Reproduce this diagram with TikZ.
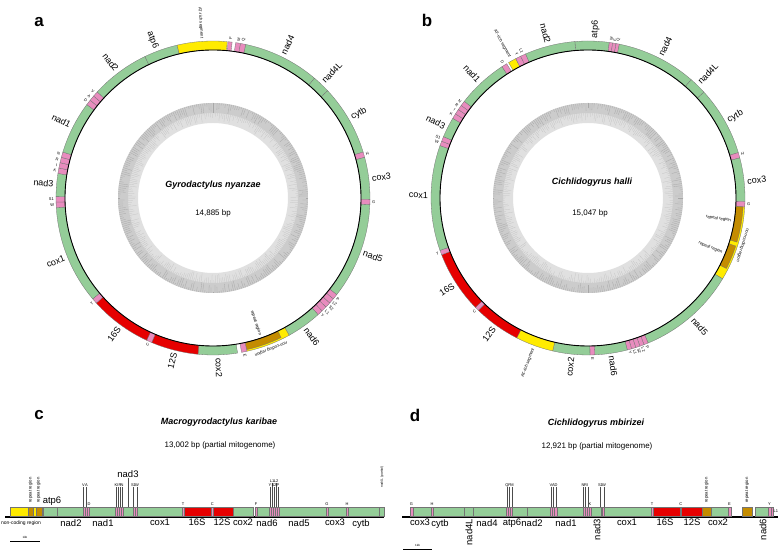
\documentclass[tikz,border=0pt]{standalone}
\usepackage{fontspec}
\setmainfont{Liberation Sans}
\definecolor{genegreen}{RGB}{148,205,152}
\definecolor{trnapink}{RGB}{232,140,190}
\definecolor{rrnared}{RGB}{230,0,0}
\definecolor{atyellow}{RGB}{255,235,0}
\definecolor{repbrown}{RGB}{196,140,0}
\def\ringseg[#1](#2:#3:#4:#5){\filldraw[#1] ({90-(#2)}:#4) arc ({90-(#2)}:{90-(#3)}:#4) -- ({90-(#3)}:#5) arc ({90-(#3)}:{90-(#2)}:#5) -- cycle;}
\def\radlab[#1](#2:#3:#4)#5{\ifdim #2pt<180pt\relax \node[#1, anchor=west, rotate={90-(#2)}] (#4) at ({90-(#2)}:#3) {#5};\else \node[#1, anchor=east, rotate={270-(#2)}] (#4) at ({90-(#2)}:#3) {#5};\fi}
\def\barseg[#1](#2:#3){\filldraw[#1] ({#2},35) rectangle ({#3},44);}
\def\gcring{%
	\fill[gray!24, even odd rule] (0,0) circle (95) circle (75);
	\fill[gray!40, even odd rule] (0,0) circle (95) circle (85);
	\foreach \k in {0,1.25,...,358.75}{\pgfmathsetmacro\rr{85+9*rnd}\draw[gray!68, line width=0.3pt] (\k:\rr) -- (\k:95);}
	\foreach \k in {0.6,1.85,...,359}{\pgfmathsetmacro\rr{76+8*rnd}\draw[gray!48, line width=0.25pt] (\k:\rr) -- (\k:85);}
}

\begin{document}
\begin{tikzpicture}[x=1bp, y=1bp,
	cds/.style={fill=genegreen, draw=black!55, line width=0.3pt},
	trna/.style={fill=trnapink, draw=black!55, line width=0.3pt},
	rrna/.style={fill=rrnared, draw=black!55, line width=0.3pt},
	atrich/.style={fill=atyellow, draw=black!55, line width=0.3pt},
	reprgn/.style={fill=repbrown, draw=black!55, line width=0.3pt},
	genelab/.style={font=\fontsize{9}{9}\selectfont, inner sep=0pt},
	barlab/.style={font=\fontsize{9.5}{9.5}\selectfont, inner sep=0pt},
	trnalab/.style={font=\fontsize{4}{4}\selectfont, inner sep=0pt},
	tinylab/.style={font=\fontsize{4.3}{4.3}\selectfont, inner sep=0pt},
	leader/.style={line width=0.35pt, black!70},
	titlelab/.style={font=\fontsize{9}{9}\bfseries\itshape\selectfont, inner sep=0pt},
	sizelab/.style={font=\fontsize{8}{8}\selectfont, inner sep=0pt},
	panellab/.style={font=\fontsize{17}{17}\bfseries\selectfont, inner sep=0pt}]
		%%%%% START %%%%%
		\useasboundingbox[fill=white] (0,0) rectangle (778,551);
		\pgfmathsetseed{7}
		
		\node[panellab] (pa) at (39,529) {a};
		\node[panellab] (pb) at (427,531) {b};
		\node[panellab] (pc) at (39,136) {c};
		\node[panellab] (pd) at (415,136) {d};
		
		% Gyrodactylus nyanzae
		\begin{scope}[shift={(213,353)}]
		\gcring
		\node[titlelab] (atitle) at (0,13) {Gyrodactylus nyanzae};
		\node[sizelab] (asize) at (0,-15) {14,885 bp};
		
		\ringseg[cds](12:40.3:148:157)
		\ringseg[cds](40.3:46.9:148:157)
		\ringseg[cds](46.9:73:148:157)
		\ringseg[trna](73:75:148:157)
		\ringseg[cds](75:90.5:148:157)
		\ringseg[trna](90.5:92.5:148:157)
		\ringseg[cds](92.5:128:148:157)
		\foreach \t in {128,130,...,136}{\ringseg[trna](\t:\t+2:148:157)}
		\ringseg[cds](138:151:148:157)
		\ringseg[atrich](151:167.5:148:157)
		\ringseg[reprgn](154:167.5:148:155.3)
		\ringseg[trna](167.5:169.5:148:157)
		\ringseg[cds](171:185.5:148:157)
		\ringseg[rrna](185.5:203:148:157)
		\ringseg[trna](203:205:148:157)
		\ringseg[rrna](205:228:148:157)
		\ringseg[trna](228:230:148:157)
		\ringseg[cds](230:266.5:148:157)
		\ringseg[trna](266.5:268.5:148:157)
		\ringseg[trna](268.5:270.5:148:157)
		\ringseg[cds](270.5:279:148:157)
		\foreach \t in {279,281,283,285}{\ringseg[trna](\t:\t+2:148:157)}
		\ringseg[cds](287:306.5:148:157)
		\foreach \t in {306.5,308.5,310.5}{\ringseg[trna](\t:\t+2:148:157)}
		\ringseg[cds](312.5:334.3:148:157)
		\ringseg[cds](334.3:346.8:148:157)
		\ringseg[atrich](346.8:365.2:148:157)
		\ringseg[trna](365.5:367:148:157)
		\ringseg[trna](368.3:370.1:148:157)
		\ringseg[trna](370.1:372:148:157)
		\draw[line width=0.9pt] (0,0) circle (148);
		
		\foreach \t/\g in {26/nad4, 43.5/nad4L, 60/cytb, 83/cox3, 110/nad5, 144.5/nad6, 178/cox2, 194/12S, 216/16S, 248/cox1, 275/nad3, 297/nad1, 323/nad2, 339/atp6}{\radlab[genelab](\t:160:a\g){\g}}
		\foreach \t/\g [count=\i] in {6.3/F, 9.2/M, 11/Q, 74/H, 91.5/G, 129/P, 131/L2, 133/S2, 135/L1, 137/Y, 168.5/E, 204/C, 229/T, 267.5/W, 269.5/S1, 280/K, 282/I, 284/R, 286/N, 307.5/D, 309.5/A, 311.5/V}{\radlab[trnalab](\t:159:at\i){\g}}
		\radlab[tinylab](356:160:aatr){AT-rich segment}
		\node[tinylab, anchor=east, rotate=-71] (arep) at (-71:145) {repeat region};
		\node[tinylab, anchor=south, rotate=-159] (anc) at (-69:159.5) {non-coding region};
		\end{scope}
		
		% Cichlidogyrus halli
		\begin{scope}[shift={(588,353)}]
		\gcring
		\node[titlelab] (btitle) at (4,16) {Cichlidogyrus halli};
		\node[sizelab] (bsize) at (2,-15) {15,047 bp};
		
		\ringseg[cds](355.2:367.8:148:157)
		\foreach \t in {7.8,9.05,10.3}{\ringseg[trna](\t:\t+1.25:148:157)}
		\ringseg[cds](11.5:41.1:148:157)
		\ringseg[cds](41.1:47.6:148:157)
		\ringseg[cds](47.6:73.2:148:157)
		\ringseg[trna](73.2:75.2:148:157)
		\ringseg[cds](75.2:91.3:148:157)
		\ringseg[trna](91.3:93.3:148:157)
		\ringseg[atrich](93.3:121:148:157)
		\ringseg[reprgn](93.3:106.5:148:155.3)
		\ringseg[reprgn](108:117:148:155.3)
		\ringseg[cds](121:157.5:148:157)
		\foreach \t in {157.5,159.1,...,164}{\ringseg[trna](\t:\t+1.6:148:157)}
		\ringseg[cds](165.5:177.5:148:157)
		\ringseg[trna](177.5:179.3:148:157)
		\ringseg[cds](179.3:193:148:157)
		\ringseg[atrich](193:207:148:157)
		\ringseg[rrna](207:224.3:148:157)
		\ringseg[trna](224.3:225.8:148:157)
		\ringseg[rrna](225.8:248.8:148:157)
		\ringseg[trna](248.8:250.5:148:157)
		\ringseg[cds](250.5:289.5:148:157)
		\ringseg[trna](289.5:291.2:148:157)
		\ringseg[trna](291.2:293:148:157)
		\ringseg[cds](293:300.5:148:157)
		\foreach \t in {300.5,302.4,304.3,306.1}{\ringseg[trna](\t:\t+1.9:148:157)}
		\ringseg[cds](308:326.8:148:157)
		\ringseg[trna](326.8:328.8:148:157)
		\ringseg[atrich](329.6:332.6:148:157)
		\ringseg[trna](332.6:334.6:148:157)
		\ringseg[trna](334.6:336.6:148:157)
		\ringseg[cds](336.6:355.2:148:157)
		\draw[line width=0.9pt] (0,0) circle (148);
		
		\foreach \t/\g in {2.5/atp6, 27/nad4, 44/nad4L, 61/cytb, 84/cox3, 139/nad5, 171.5/nad6, 186/cox2, 216/12S, 237/16S, 271/cox1, 296.5/nad3, 317/nad1, 345.5/nad2}{\radlab[genelab](\t:160:b\g){\g}}
		\foreach \t/\g [count=\i] in {8.4/M, 9.7/F, 10.9/Q, 74.2/H, 92.3/G, 158.3/P, 159.9/L2, 161.5/S2, 163.1/L1, 164.7/Y, 178.4/E, 225/C, 249.6/T, 290.3/W, 292.1/S1, 301.5/K, 303.4/I, 305.3/R, 307.1/N, 327.8/D, 333.6/Y, 335.6/L1}{\radlab[trnalab](\t:159:bt\i){\g}}
		\radlab[tinylab](331:161:batra){AT-rich segment}
		\radlab[tinylab](200:160:batrb){AT-rich segment}
		\node[tinylab, anchor=east, rotate=-9] (breps) at (-9:145) {repeat region};
		\node[tinylab, anchor=east, rotate=-22] (brept) at (-22:145) {repeat region};
		\node[tinylab, anchor=south, rotate=-107] (bnc) at (-17:159.5) {non-coding region};
		\end{scope}
		
		% Macrogyrodactylus karibae
		\node[titlelab] (ctitle) at (219,129) {Macrogyrodactylus karibae};
		\node[sizelab] (csize) at (220,106) {13,002 bp (partial mitogenome)};
		\coordinate (cbar) at (0,44);
		\draw[line width=1.4pt] (5,34) -- (384,34);
		\barseg[atrich](10:43)
		\barseg[reprgn](28:33)
		\barseg[reprgn](36:42)
		\barseg[cds](43:57)
		\barseg[cds](57:83)
		\foreach \x in {83,85,87}{\barseg[trna](\x:\x+2)}
		\barseg[cds](89:115)
		\foreach \x in {115,117,119,121}{\barseg[trna](\x:\x+2)}
		\barseg[cds](123:133)
		\foreach \x in {133,135}{\barseg[trna](\x:\x+2)}
		\barseg[cds](137:182)
		\barseg[trna](182:184)
		\barseg[rrna](184:211.5)
		\barseg[trna](211.5:213)
		\barseg[rrna](213:233)
		\barseg[cds](233:253)
		\barseg[trna](255:257)
		\barseg[cds](257:269)
		\foreach \x in {269,271,...,277}{\barseg[trna](\x:\x+2)}
		\barseg[cds](279:326)
		\barseg[trna](326:328)
		\barseg[cds](328:346)
		\barseg[trna](346:348)
		\barseg[cds](348:379)
		\barseg[cds](379:384)
		
		\foreach \x/\g in {71/nad2, 103/nad1, 160/cox1, 197/16S, 222/12S, 243/cox2, 267/nad6, 299/nad5, 335/cox3, 361/cytb}{\node[barlab, anchor=north] (c\g) at (\x,32) {\g};}
		\node[barlab, anchor=south] (catp6) at (52,45) {atp6};
		\node[barlab, anchor=south] (cnad3) at (128,73) {nad3};
		\draw[leader] (cnad3.south) -- (cnad3.south |- cbar);
		\node[font=\fontsize{5}{5}\selectfont, inner sep=0pt] (cnc) at (21,28) {non-coding region};
		\node[tinylab, anchor=west, rotate=90] (crepa) at (30.5,48) {repeat region};
		\node[tinylab, anchor=west, rotate=90] (crepb) at (38.5,48) {repeat region};
		\node[font=\fontsize{3.3}{3.3}\selectfont, inner sep=0pt, anchor=west, rotate=90] (cpart) at (382,63) {nad4L (partial)};
		\foreach \x/\g in {89/D, 183/T, 212.2/C, 256/F, 327/G, 347/H}{\node[trnalab, anchor=south] (ct\g) at (\x,45.5) {\g};}
		\foreach \x/\g/\h [count=\i] in {83.5/V/0, 86.5/A/0, 116/K/0, 118/I/0, 120/R/0, 122/N/0, 133.5/S1/0, 137/W/0, 270/Y/0, 272/L1/4, 274/S2/0, 276/L2/4, 278/P/0}{\node[trnalab, anchor=south] (cl\i) at (\x,64+\h) {\g}; \draw[leader] (cl\i.south) -- (cl\i.south |- cbar);}
		\draw[line width=0.8pt] (10,10) -- (40,10);
		\node[font=\fontsize{3}{3}\selectfont, inner sep=0pt, anchor=south] (ckb) at (25,12) {1kb};
		
		% Cichlidogyrus mbirizei
		\node[titlelab] (dtitle) at (596,128) {Cichlidogyrus mbirizei};
		\node[sizelab] (dsize) at (597,105) {12,921 bp (partial mitogenome)};
		\coordinate (dbar) at (400,44);
		\draw[line width=1.4pt] (402,34) -- (778,34);
		\barseg[trna](410:413)
		\barseg[cds](413:431)
		\barseg[trna](431:433)
		\barseg[cds](433:464)
		\barseg[cds](464:473)
		\barseg[cds](473:506)
		\foreach \x in {506,508,510}{\barseg[trna](\x:\x+2)}
		\barseg[cds](512:527)
		\barseg[cds](527:550)
		\foreach \x in {550,552.3,554.6}{\barseg[trna](\x:\x+2.4)}
		\barseg[cds](557:583)
		\foreach \x in {583,585,587,589}{\barseg[trna](\x:\x+2)}
		\barseg[cds](591:601)
		\barseg[trna](601:602.5)
		\barseg[trna](602.5:604)
		\barseg[cds](604:651)
		\barseg[trna](651:653)
		\barseg[rrna](653:680)
		\barseg[trna](680:681.5)
		\barseg[rrna](681.5:702)
		\barseg[reprgn](702:711)
		\barseg[cds](711:728)
		\barseg[trna](728:731)
		\barseg[reprgn](742:752)
		\barseg[cds](755:768)
		\barseg[trna](768:771)
		\barseg[trna](771:773)
		
		\foreach \x/\g in {420/cox3, 440/cytb, 487/nad4, 512/atp6, 532/nad2, 566/nad1, 627/cox1, 665/16S, 692/12S, 718/cox2}{\node[barlab, anchor=north] (d\g) at (\x,32) {\g};}
		\foreach \x/\g in {469/nad4L, 597/nad3, 763/nad6}{\node[barlab, anchor=east, rotate=90] (d\g) at (\x,32) {\g};}
		\node[tinylab, anchor=west, rotate=90] (drepa) at (706.5,48) {repeat region};
		\node[tinylab, anchor=west, rotate=90] (drepb) at (747,48) {repeat region};
		\foreach \x/\g in {411.5/G, 432/H, 590/K, 652/T, 680.7/C, 729.5/E, 769.5/Y}{\node[trnalab, anchor=south] (dt\g) at (\x,45.5) {\g};}
		\node[trnalab, anchor=west] (dtL) at (773.5,40) {L1};
		\foreach \x/\g [count=\i] in {507/Q, 509.5/F, 512/M, 551/V, 553.5/A, 556/D, 583/N, 585.5/R, 588/I, 600.5/S1, 604/W}{\node[trnalab, anchor=south] (dl\i) at (\x,64) {\g}; \draw[leader] (dl\i.south) -- (dl\i.south |- dbar);}
		\draw[line width=0.8pt] (403,2) -- (432,2);
		\node[font=\fontsize{3}{3}\selectfont, inner sep=0pt, anchor=south] (dkb) at (417.5,4) {1kb};
		
		%%%%% END %%%%%
\end{tikzpicture}
\end{document}
